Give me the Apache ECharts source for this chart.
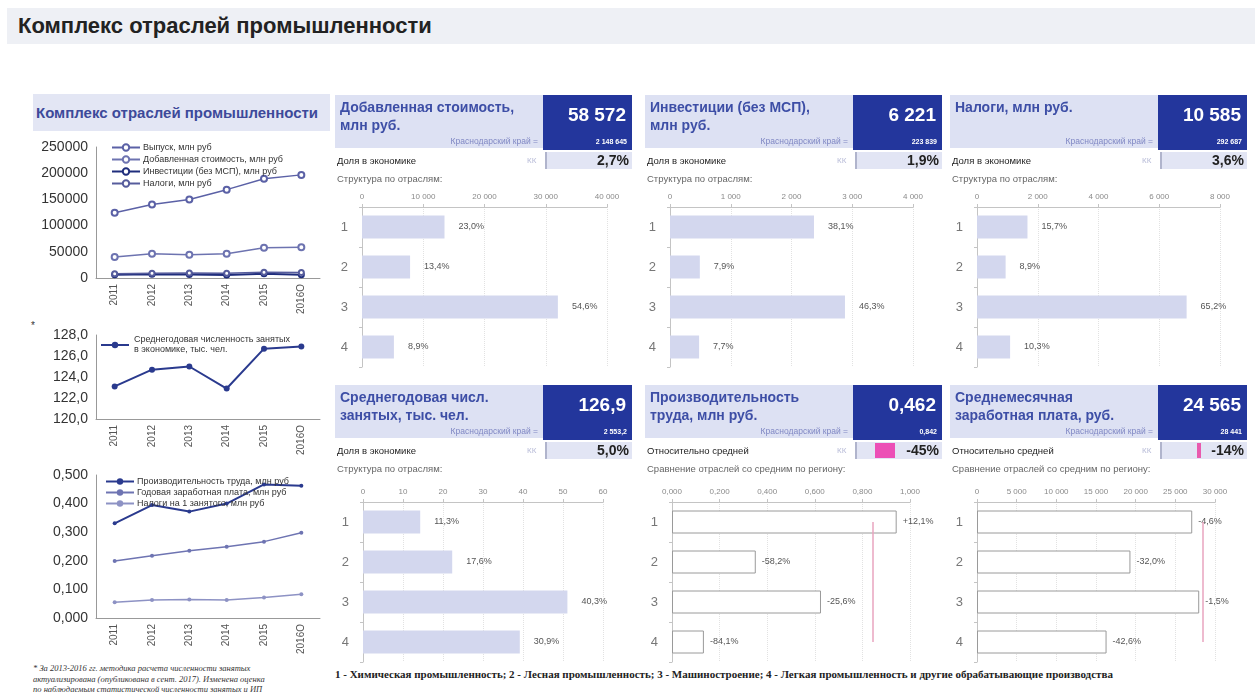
<!DOCTYPE html>
<html lang="ru">
<head>
<meta charset="UTF-8">
<title>Комплекс отраслей промышленности</title>
<script src="https://cdn.jsdelivr.net/npm/echarts@6/dist/echarts.min.js"></script>
<style>
    body{margin:0;width:1255px;height:697px;position:relative;background:#fff;overflow:hidden;
        font-family:Arial,"Liberation Sans",sans-serif;}
    .abs{position:absolute;white-space:nowrap;}
    #main{position:absolute;left:0;top:0;width:1255px;height:697px;}
    .ttl{color:#3d4ea6;font-size:14px;font-weight:bold;line-height:18px;}
    .big{color:#fff;font-weight:bold;font-size:19px;text-align:right;}
    .small{color:#fff;font-weight:bold;font-size:7px;text-align:right;}
</style>
</head>
<body>
<div class="abs" style="left:7px;top:8px;width:1248px;height:36px;background:#eef0f5;"></div>
<div class="abs" style="left:18px;top:12px;font-size:22px;font-weight:bold;color:#222;line-height:28px;">Комплекс отраслей промышленности</div>
<div class="abs" style="left:33px;top:94px;width:297px;height:37px;background:#e3e6f4;"></div>
<div class="abs" style="left:36px;top:104px;font-size:15px;font-weight:bold;color:#3d4a9a;">Комплекс отраслей промышленности</div>
<div class="abs" style="left:31px;top:320px;font-size:10px;color:#333;">*</div>
<div class="abs" style="left:33px;top:663px;font-size:8.5px;line-height:10.5px;font-style:italic;color:#333;font-family:'Liberation Serif',serif;">
    * За 2013-2016 гг. методика расчета численности занятых<br>актуализирована (опубликована в сент. 2017). Изменена оценка<br>по наблюдаемым статистической численности занятых и ИП
</div>
<div class="abs" style="left:335px;top:668px;font-size:11px;font-weight:bold;color:#222;font-family:'Liberation Serif',serif;">
    1 - Химическая промышленность; 2 - Лесная промышленность; 3 - Машиностроение; 4 - Легкая промышленность и другие обрабатывающие производства
</div>
<div id="main"></div>
<div id="heads"></div>
<script>
    // годы
    var years = ['2011', '2012', '2013', '2014', '2015', '2016О'];
    // левый верхний график, млн руб
    var vypusk = [124600, 140400, 149800, 168600, 189300, 196800];
    var dobStoim = [40000, 46400, 44500, 46400, 57700, 58572];
    var invest = [6000, 7000, 6500, 5500, 8000, 6221];
    var nalogi = [8000, 9000, 9500, 9000, 11000, 10585];
    // численность занятых, тыс. чел.
    var zanyatye = [123.1, 124.7, 125.0, 122.9, 126.7, 126.9];
    // нижний левый, млн руб
    var proizvod = [0.331, 0.395, 0.372, 0.400, 0.467, 0.462];
    var zarplata = [0.199, 0.218, 0.235, 0.249, 0.267, 0.298];
    var nalogNa1 = [0.055, 0.063, 0.065, 0.063, 0.072, 0.083];

    // шапки панелей
    var panelTitles = ['Добавленная стоимость,<br>млн руб.', 'Инвестиции (без МСП),<br>млн руб.', 'Налоги, млн руб.',
        'Среднегодовая числ.<br>занятых, тыс. чел.', 'Производительность<br>труда, млн руб.', 'Среднемесячная<br>заработная плата, руб.'];
    var panelTotals = ['58 572', '6 221', '10 585', '126,9', '0,462', '24 565'];
    var regionTotals = ['2 148 645', '223 839', '292 687', '2 553,2', '0,842', '28 441'];
    var shareNames = ['Доля в экономике', 'Доля в экономике', 'Доля в экономике', 'Доля в экономике', 'Относительно средней', 'Относительно средней'];
    var shareValues = ['2,7%', '1,9%', '3,6%', '5,0%', '-45%', '-14%'];
    var subTitles = ['Структура по отраслям:', 'Структура по отраслям:', 'Структура по отраслям:', 'Структура по отраслям:',
        'Сравнение отраслей со средним по региону:', 'Сравнение отраслей со средним по региону:'];

    // бары по отраслям
    var otrasli = ['1', '2', '3', '4'];
    var barDob = [13470, 7850, 31980, 5210];
    var barInv = [2370, 491, 2880, 479];
    var barNal = [1662, 942, 6901, 1090];
    var barZan = [14.3, 22.3, 51.1, 39.2];
    var barProd = [0.944, 0.352, 0.626, 0.134];
    var barZp = [27130, 19340, 28010, 16330];
    var lblDob = ['23,0%', '13,4%', '54,6%', '8,9%'];
    var lblInv = ['38,1%', '7,9%', '46,3%', '7,7%'];
    var lblNal = ['15,7%', '8,9%', '65,2%', '10,3%'];
    var lblZan = ['11,3%', '17,6%', '40,3%', '30,9%'];
    var lblProd = ['+12,1%', '-58,2%', '-25,6%', '-84,1%'];
    var lblZp = ['-4,6%', '-32,0%', '-1,5%', '-42,6%'];
    var avgProd = 0.842;
    var avgZp = 28441;

    var colX = [335, 645, 950];
    var rowY = [95, 385];

    // шапки
    var html = '';
    for (var i = 0; i < 6; i++) {
        var x = colX[i % 3], y = rowY[Math.floor(i / 3)];
        html += '<div class="abs" style="left:' + x + 'px;top:' + y + 'px;width:297px;height:53px;background:#dde1f3;"></div>';
        html += '<div class="abs ttl" style="left:' + (x + 5) + 'px;top:' + (y + 3) + 'px;">' + panelTitles[i] + '</div>';
        html += '<div class="abs" style="left:' + x + 'px;top:' + (y + 41) + 'px;width:203px;text-align:right;font-size:8.5px;color:#8088c4;">Краснодарский край =</div>';
        html += '<div class="abs" style="left:' + (x + 208) + 'px;top:' + y + 'px;width:89px;height:55px;background:#23369c;"></div>';
        html += '<div class="abs big" style="left:' + (x + 208) + 'px;top:' + (y + 9) + 'px;width:83px;">' + panelTotals[i] + '</div>';
        html += '<div class="abs small" style="left:' + (x + 208) + 'px;top:' + (y + 43) + 'px;width:84px;">' + regionTotals[i] + '</div>';
        html += '<div class="abs" style="left:' + (x + 2) + 'px;top:' + (y + 58) + 'px;font-size:9.5px;line-height:16px;color:#222;">' + shareNames[i] + '</div>';
        html += '<div class="abs" style="left:' + (x + 192) + 'px;top:' + (y + 58) + 'px;font-size:8px;line-height:16px;color:#b8bcd8;">КК</div>';
        html += '<div class="abs" style="left:' + (x + 210) + 'px;top:' + (y + 57) + 'px;width:87px;height:17px;background:#e2e5f4;border-left:2px solid #b0b4cc;box-sizing:border-box;"></div>';
        if (i == 4) html += '<div class="abs" style="left:' + (x + 230) + 'px;top:' + (y + 58) + 'px;width:20px;height:15px;background:#ec4fb6;"></div>';
        if (i == 5) html += '<div class="abs" style="left:' + (x + 247) + 'px;top:' + (y + 58) + 'px;width:4px;height:15px;background:#e95aae;"></div>';
        html += '<div class="abs" style="left:' + (x + 210) + 'px;top:' + (y + 56) + 'px;width:84px;text-align:right;font-size:14px;font-weight:bold;line-height:18px;color:#222;">' + shareValues[i] + '</div>';
        html += '<div class="abs" style="left:' + (x + 2) + 'px;top:' + (y + 77) + 'px;font-size:9.5px;line-height:14px;color:#666;">' + subTitles[i] + '</div>';
    }
    document.getElementById('heads').innerHTML = html;

    function thous(v) { return String(v).replace(/\B(?=(\d{3})+(?!\d))/g, ' '); }
    function comma(d) { return function (v) { return v.toFixed(d).replace('.', ','); }; }

    var myChart = echarts.init(document.getElementById('main'));

    var grids = [
        {left: 96, top: 147, width: 224, height: 131},
        {left: 96, top: 335, width: 224, height: 84},
        {left: 96, top: 475, width: 224, height: 143}
    ];
    var xAxes = [], yAxes = [], series = [];
    var lineYmeta = [
        {min: 0, max: 250000, interval: 50000, fmt: function (v) { return v; }},
        {min: 120, max: 128, interval: 2, fmt: comma(1)},
        {min: 0, max: 0.5, interval: 0.1, fmt: comma(3)}
    ];
    for (var g = 0; g < 3; g++) {
        xAxes.push({
            gridIndex: g, type: 'category', data: years, boundaryGap: true,
            axisLine: {lineStyle: {color: '#999'}}, axisTick: {lineStyle: {color: '#999'}},
            axisLabel: {rotate: 90, fontSize: 10, color: '#555', margin: 6}
        });
        yAxes.push({
            gridIndex: g, type: 'value', min: lineYmeta[g].min, max: lineYmeta[g].max, interval: lineYmeta[g].interval,
            axisLine: {show: true, lineStyle: {color: '#999'}}, axisTick: {show: false}, splitLine: {show: false},
            axisLabel: {fontSize: 14, color: '#333', margin: 8, formatter: lineYmeta[g].fmt}
        });
    }

    function lineSer(name, g, data, color, sym, size, width) {
        return {
            name: name, type: 'line', xAxisIndex: g, yAxisIndex: g, data: data,
            symbol: sym, symbolSize: size, lineStyle: {color: color, width: width},
            itemStyle: {color: color}, z: 3
        };
    }
    series.push(lineSer('Выпуск, млн руб', 0, vypusk, '#5b61a6', 'emptyCircle', 6, 1.5));
    series.push(lineSer('Добавленная стоимость, млн руб', 0, dobStoim, '#6d73b0', 'emptyCircle', 6, 1.5));
    series.push(lineSer('Инвестиции (без МСП), млн руб', 0, invest, '#1f2d7c', 'emptyCircle', 5, 2));
    series.push(lineSer('Налоги, млн руб', 0, nalogi, '#565c9c', 'emptyCircle', 5, 1.5));
    series.push(lineSer('Среднегодовая численность занятых\nв экономике, тыс. чел.', 1, zanyatye, '#2a3a8e', 'circle', 6, 2));
    series.push(lineSer('Производительность труда, млн руб', 2, proizvod, '#2a3a8e', 'circle', 4, 2));
    series.push(lineSer('Годовая заработная плата, млн руб', 2, zarplata, '#6e74b2', 'circle', 4, 1.5));
    series.push(lineSer('Налоги на 1 занятого, млн руб', 2, nalogNa1, '#8d92c4', 'circle', 4, 1.5));

    var legendText = {fontSize: 9, color: '#333', padding: [0, 0, 0, -2]};
    var legends = [
        {left: 106, top: 138, orient: 'vertical', itemGap: 3, itemWidth: 28, itemHeight: 8, textStyle: legendText,
            data: ['Выпуск, млн руб', 'Добавленная стоимость, млн руб', 'Инвестиции (без МСП), млн руб', 'Налоги, млн руб']},
        {left: 95, top: 330, orient: 'vertical', itemWidth: 28, itemHeight: 8, textStyle: {fontSize: 9, color: '#333', lineHeight: 10},
            data: ['Среднегодовая численность занятых\nв экономике, тыс. чел.']},
        {left: 100, top: 472, orient: 'vertical', itemGap: 2, itemWidth: 28, itemHeight: 8, textStyle: legendText,
            data: ['Производительность труда, млн руб', 'Годовая заработная плата, млн руб', 'Налоги на 1 занятого, млн руб']}
    ];

    // бары
    var bars = [
        {left: 362, top: 207, width: 245, max: 40000, interval: 10000, data: barDob, lbl: lblDob, fmt: thous},
        {left: 670, top: 207, width: 243, max: 4000, interval: 1000, data: barInv, lbl: lblInv, fmt: thous},
        {left: 977, top: 207, width: 243, max: 8000, interval: 2000, data: barNal, lbl: lblNal, fmt: thous},
        {left: 363, top: 502, width: 240, max: 60, interval: 10, data: barZan, lbl: lblZan, fmt: thous},
        {left: 672, top: 502, width: 238, max: 1, interval: 0.2, data: barProd, lbl: lblProd, fmt: comma(3), avg: avgProd},
        {left: 977, top: 502, width: 238, max: 30000, interval: 5000, data: barZp, lbl: lblZp, fmt: thous, avg: avgZp}
    ];
    bars.forEach(function (b, k) {
        var gi = grids.length;
        grids.push({left: b.left, top: b.top, width: b.width, height: 160});
        xAxes.push({
            gridIndex: gi, type: 'value', position: 'top', min: 0, max: b.max, interval: b.interval,
            axisLine: {show: true, lineStyle: {color: '#c4c4c4'}}, axisTick: {show: true, length: 3, lineStyle: {color: '#c4c4c4'}},
            splitLine: {show: true, lineStyle: {color: '#e2e2e2', type: 'dotted'}},
            axisLabel: {fontSize: 8, color: '#8a8a8a', margin: 6, formatter: b.fmt}
        });
        yAxes.push({
            gridIndex: gi, type: 'category', data: otrasli, inverse: true,
            axisLine: {show: true, lineStyle: {color: '#c4c4c4'}}, axisTick: {show: true, length: 3, lineStyle: {color: '#c4c4c4'}},
            axisLabel: {fontSize: 13, color: '#777', margin: 14}
        });
        var hollow = b.avg !== undefined;
        var s = {
            type: 'bar', xAxisIndex: gi, yAxisIndex: gi, data: b.data, barWidth: 23,
            itemStyle: hollow ? {color: '#fff', borderColor: '#9a9a9a', borderWidth: 1} : {color: '#d3d7ee'},
            label: {show: true, position: 'right', distance: hollow ? 6 : 14, fontSize: 9, color: '#555',
                formatter: (function (arr) { return function (p) { return arr[p.dataIndex]; }; })(b.lbl)}
        };
        if (hollow) {
            s.markLine = {
                silent: true, symbol: 'none', label: {show: false},
                lineStyle: {color: '#e9a4bf', type: 'solid', width: 1.5},
                data: [[{coord: [b.avg, 0]}, {coord: [b.avg, 3]}]]
            };
        }
        series.push(s);
    });

    var option = {
        animation: false,
        grid: grids,
        xAxis: xAxes,
        yAxis: yAxes,
        legend: legends,
        series: series
    };
    myChart.setOption(option);
</script>
</body>
</html>
